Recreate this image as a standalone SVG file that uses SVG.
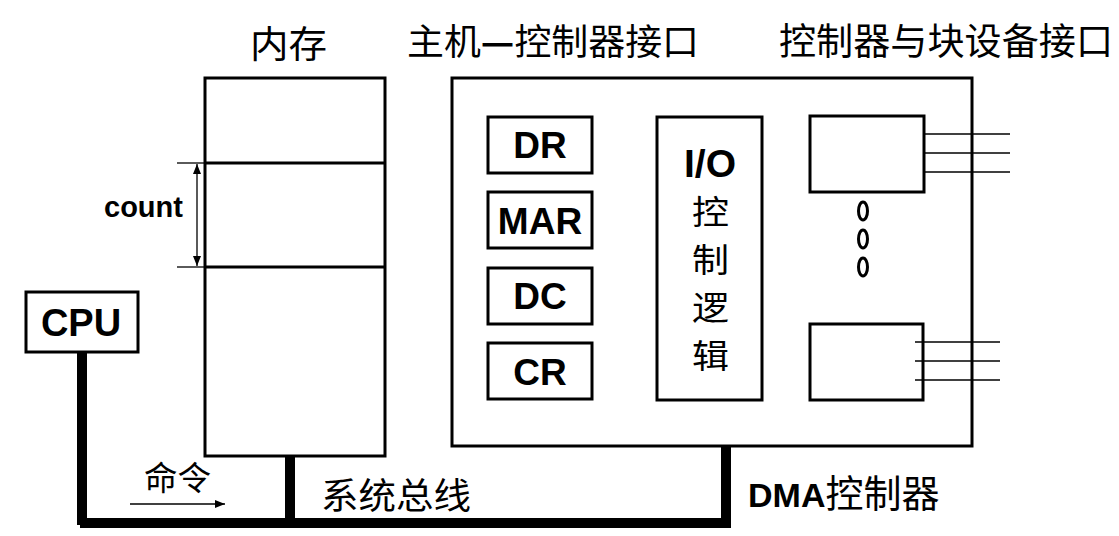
<svg xmlns="http://www.w3.org/2000/svg" width="1119" height="536" viewBox="0 0 1119 536">
<style>
.box{fill:#fff;stroke:#000;stroke-width:3}
.thin{stroke:#000;stroke-width:1.3;fill:none}
.bus{stroke:#000;stroke-width:7;fill:none;stroke-linejoin:miter;stroke-linecap:square}
.b{font-family:"Liberation Sans",Arial,sans-serif;font-weight:bold;fill:#000}
.cn{font-family:"Noto Sans CJK SC","Liberation Serif",serif;fill:#000}
</style>
<defs>
<marker id="ah" viewBox="0 0 10 10" refX="10" refY="5" markerWidth="10" markerHeight="10" markerUnits="userSpaceOnUse" orient="auto-start-reverse">
<path d="M0,1 L10,5 L0,9 Z" fill="#000"/>
</marker>
</defs>
<rect width="1119" height="536" fill="#fff"/>

<g id="titles">
<text class="cn" x="250" y="58" font-size="37" textLength="77" lengthAdjust="spacingAndGlyphs">内存</text>
<text class="cn" x="407" y="55" font-size="36" textLength="292" lengthAdjust="spacingAndGlyphs">主机<tspan font-weight="bold">—</tspan>控制器接口</text>
<text class="cn" x="779" y="55" font-size="37" textLength="334" lengthAdjust="spacingAndGlyphs">控制器与块设备接口</text>
</g>

<g id="connectors">
<path class="bus" d="M83.5,355 V524.5 H727.5 V449"/>
<path class="bus" d="M291.5,459 V524.5"/>
<path class="bus" d="M80.5,352 V521.5 H724.5 V446"/>
<path class="bus" d="M288.5,456 V521.5"/>
<line class="thin" x1="130" y1="504" x2="225" y2="504" marker-end="url(#ah)"/>
</g>

<g id="memory">
<rect class="box" x="205" y="78" width="180" height="378"/>
<line x1="205" y1="163" x2="385" y2="163" stroke="#000" stroke-width="3"/>
<line x1="205" y1="267" x2="385" y2="267" stroke="#000" stroke-width="3"/>
<line class="thin" x1="177" y1="163" x2="205" y2="163"/>
<line class="thin" x1="177" y1="267" x2="205" y2="267"/>
<line class="thin" x1="197" y1="164" x2="197" y2="266" marker-start="url(#ah)" marker-end="url(#ah)"/>
<text class="b" x="104" y="217" font-size="29">count</text>
</g>

<g id="cpu">
<rect class="box" x="26" y="292" width="112" height="60"/>
<text class="b" x="81" y="336" font-size="38" text-anchor="middle">CPU</text>
</g>

<g id="dma">
<rect class="box" x="452" y="78" width="520" height="368"/>
</g>

<g id="dr"><rect class="box" x="488" y="117" width="104" height="56"/><text class="b" x="540" y="158" font-size="37" text-anchor="middle">DR</text></g>
<g id="mar"><rect class="box" x="488" y="192" width="104" height="56"/><text class="b" x="540" y="234" font-size="37" text-anchor="middle">MAR</text></g>
<g id="dc"><rect class="box" x="488" y="268" width="104" height="56"/><text class="b" x="540" y="309" font-size="37" text-anchor="middle">DC</text></g>
<g id="cr"><rect class="box" x="488" y="343" width="104" height="56"/><text class="b" x="540" y="385" font-size="37" text-anchor="middle">CR</text></g>

<g id="io">
<rect class="box" x="657" y="117" width="105" height="283"/>
<text class="b" x="710" y="177" font-size="39" text-anchor="middle">I/O</text>
<text class="cn" x="692" y="224" font-size="33" textLength="37" lengthAdjust="spacingAndGlyphs">控</text>
<text class="cn" x="692" y="272" font-size="33" textLength="37" lengthAdjust="spacingAndGlyphs">制</text>
<text class="cn" x="692" y="320" font-size="33" textLength="37" lengthAdjust="spacingAndGlyphs">逻</text>
<text class="cn" x="692" y="368" font-size="33" textLength="37" lengthAdjust="spacingAndGlyphs">辑</text>
</g>

<g id="dev1">
<rect class="box" x="810" y="116" width="114" height="76"/>
<line class="thin" x1="924" y1="134" x2="1010" y2="134"/>
<line class="thin" x1="924" y1="153" x2="1010" y2="153"/>
<line class="thin" x1="924" y1="172" x2="1010" y2="172"/>
</g>

<g id="dots">
<ellipse cx="863" cy="211" rx="4.5" ry="9" fill="none" stroke="#000" stroke-width="3"/>
<ellipse cx="863" cy="239" rx="4.5" ry="9" fill="none" stroke="#000" stroke-width="3"/>
<ellipse cx="863" cy="267" rx="4.5" ry="9" fill="none" stroke="#000" stroke-width="3"/>
</g>

<g id="dev2">
<rect class="box" x="810" y="324" width="113" height="76"/>
<line class="thin" x1="915" y1="342" x2="1000" y2="342"/>
<line class="thin" x1="915" y1="361" x2="1000" y2="361"/>
<line class="thin" x1="915" y1="380" x2="1000" y2="380"/>
</g>

<g id="labels">
<text class="cn" x="144" y="490" font-size="33" textLength="67" lengthAdjust="spacingAndGlyphs">命令</text>
<text class="cn" x="321" y="509" font-size="36" textLength="150" lengthAdjust="spacingAndGlyphs">系统总线</text>
<text x="748" y="507" font-size="34"><tspan class="b">DMA</tspan><tspan class="cn" font-size="38">控制器</tspan></text>
</g>
</svg>
